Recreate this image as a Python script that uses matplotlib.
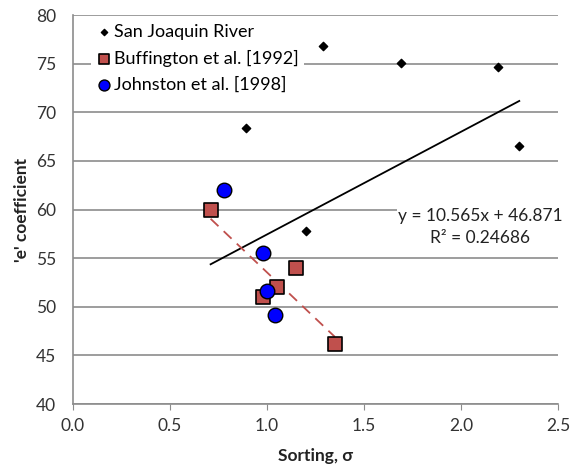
import numpy as np
import matplotlib.pyplot as plt

plt.rcParams['font.family'] = ['Lato', 'DejaVu Sans']

# San Joaquin River
sj_x = [0.89, 1.20, 1.29, 1.69, 2.19, 2.30]
sj_y = [68.4, 57.8, 76.8, 75.1, 74.7, 66.5]
# Buffington et al. [1992]
bf_x = [0.71, 0.98, 1.05, 1.15, 1.35]
bf_y = [60.0, 51.0, 52.0, 54.0, 46.2]
# Johnston et al. [1998]
jo_x = [0.78, 0.98, 1.00, 1.04]
jo_y = [62.0, 55.5, 51.6, 49.2]

slope, icpt = 10.565, 46.871
r2 = 0.24686

fig = plt.figure(figsize=(5.73, 4.72), dpi=100)
ax = fig.add_axes([0.127, 0.144, 0.847, 0.824])

ax.set_xlim(0, 2.5)
ax.set_ylim(40, 80)
ax.set_yticks(np.arange(40, 81, 5))
ax.set_xticks(np.arange(0, 2.51, 0.5))
ax.set_xticklabels(['%.1f' % v for v in np.arange(0, 2.51, 0.5)])
ax.grid(axis='y', color='#8c8c8c', lw=1.2)
ax.set_axisbelow(True)
for s in ['top', 'right']:
    ax.spines[s].set_visible(False)
for s in ['left', 'bottom']:
    ax.spines[s].set_color('#8c8c8c')
    ax.spines[s].set_linewidth(1.2)
ax.tick_params(colors='#8c8c8c', labelcolor='#333333', labelsize=12.5)
ax.tick_params(axis='x', length=4, pad=6)
ax.tick_params(axis='y', length=0, pad=12)

# trend lines
all_x = np.array(sj_x + bf_x + jo_x)
tx = np.array([all_x.min(), all_x.max()])
ax.plot(tx, slope * tx + icpt, color='black', lw=1.3, zorder=2)
bc = np.polyfit(bf_x, bf_y, 1)
bx = np.array([min(bf_x), max(bf_x)])
ax.plot(bx, np.polyval(bc, bx), color='#c0504d', lw=1.3, ls=(0, (6, 4)), zorder=2)

ax.scatter(sj_x, sj_y, marker='D', s=18, color='black', zorder=3, label='San Joaquin River')
ax.scatter(bf_x, bf_y, marker='s', s=110, color='#c0504d', edgecolor='black', lw=1.2,
           zorder=3, label='Buffington et al. [1992]')
ax.scatter(jo_x, jo_y, marker='o', s=110, color='#0000ff', edgecolor='black', lw=1.0,
           zorder=4, label='Johnston et al. [1998]')

ax.text(2.1, 58.2, 'y = 10.565x + 46.871\nR² = %.5f' % r2, ha='center', va='center',
        fontsize=12.5, color='#222222', linespacing=1.45,
        bbox=dict(facecolor='white', edgecolor='none', pad=1))

leg = ax.legend(loc='upper left', bbox_to_anchor=(0.03, 1.0), frameon=True, fontsize=13,
                handletextpad=0.05, borderpad=0.3, labelspacing=0.55, handlelength=0.9,
                scatterpoints=1, markerscale=0.75, borderaxespad=0.2)
leg.get_frame().set_edgecolor('none')
leg.get_frame().set_facecolor('white')
leg.get_frame().set_alpha(1)

ax.set_xlabel('Sorting, σ', fontsize=12.5, fontweight='bold', color='#222222', labelpad=10)
ax.set_ylabel("'e' coefficient", fontsize=12.5, fontweight='bold', color='#222222')

fig.savefig('out.png', dpi=100)
